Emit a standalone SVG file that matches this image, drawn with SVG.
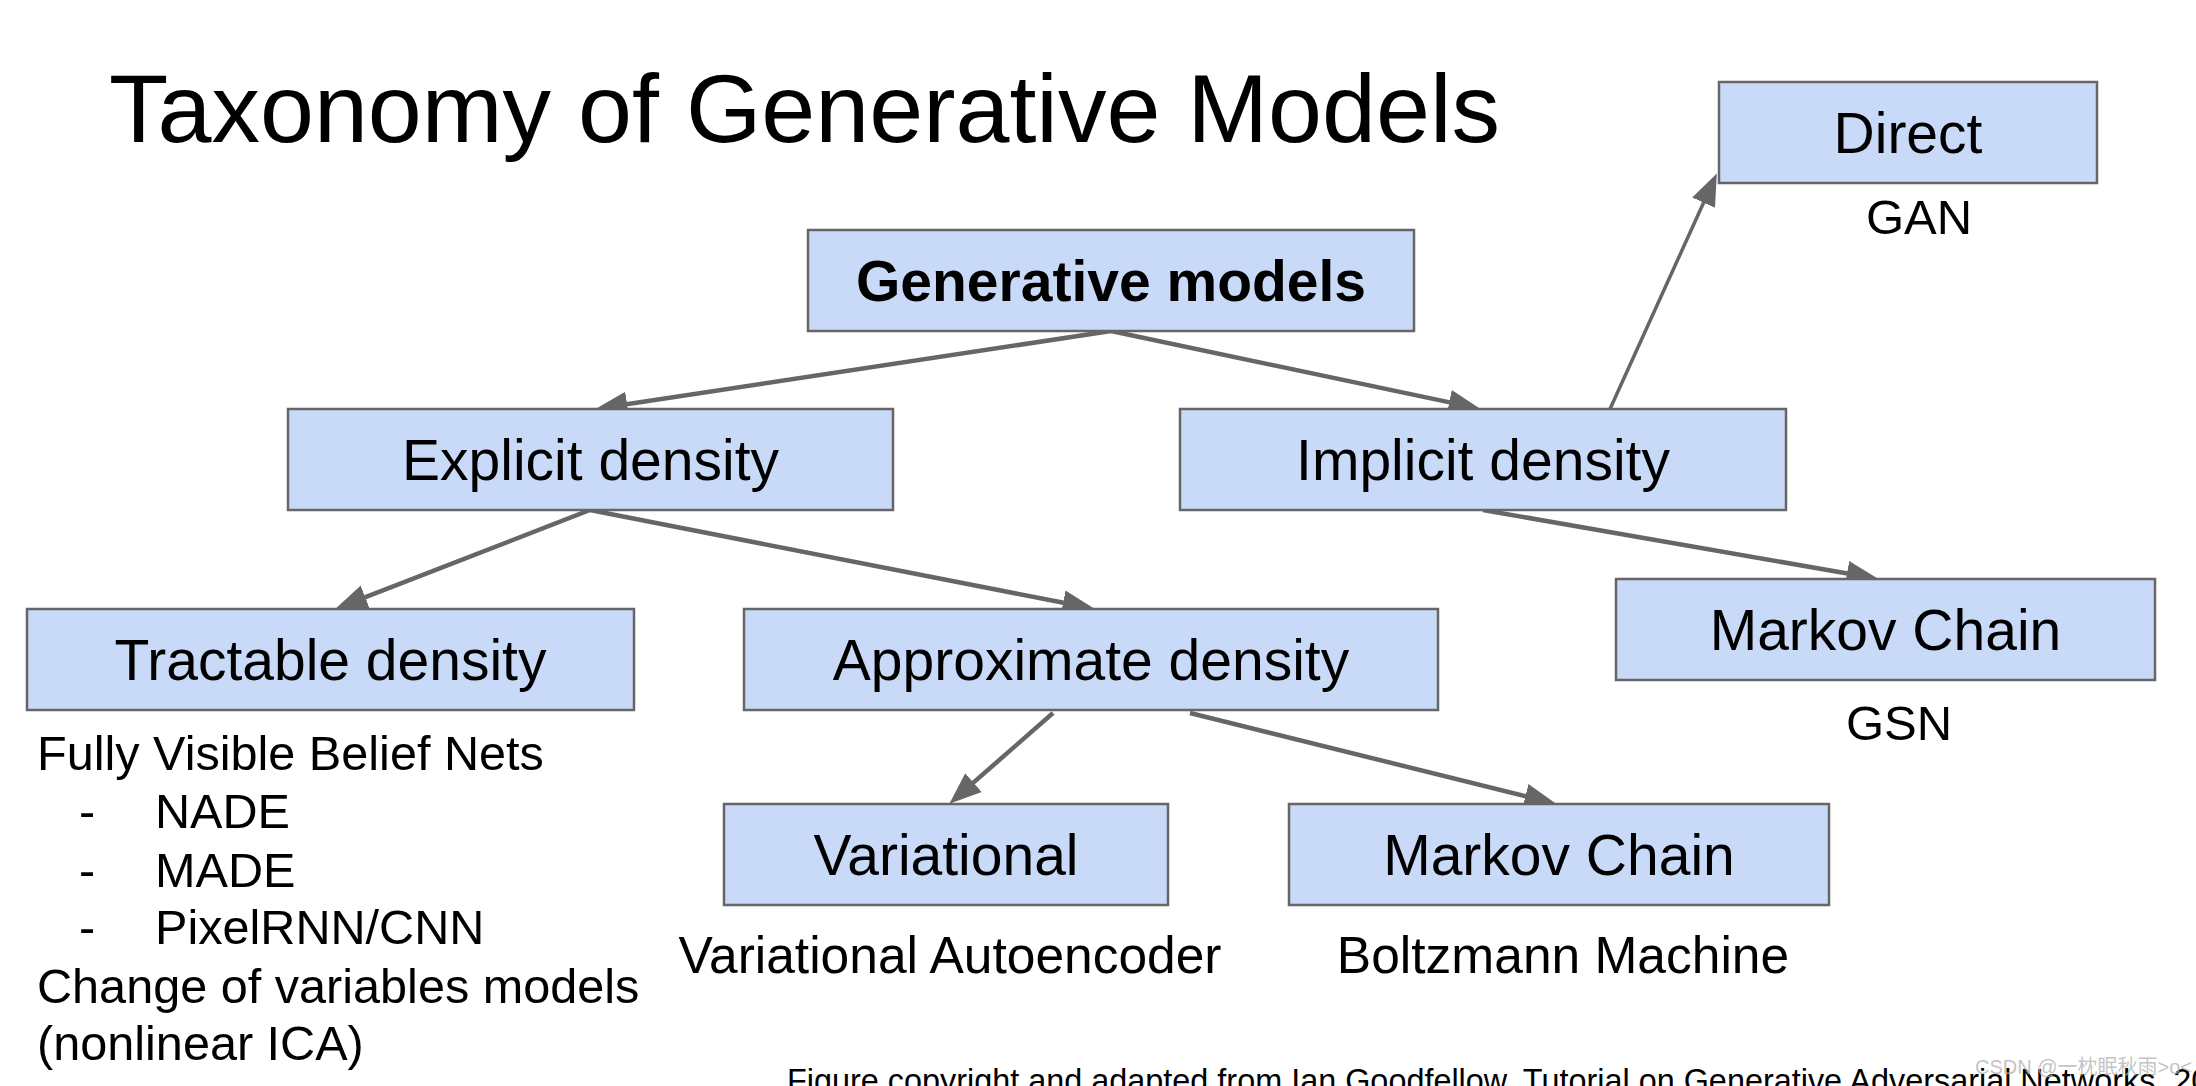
<svg xmlns="http://www.w3.org/2000/svg" width="2196" height="1086" viewBox="0 0 2196 1086">
  <style>
    text { font-family: "Liberation Sans", Arial, sans-serif; fill: #000; }
    .box { fill: #c9daf8; stroke: #666666; stroke-width: 2.5; }
    .lbl { font-size: 57px; text-anchor: middle; }
    .bold { font-weight: bold; }
    .sub { font-size: 49px; text-anchor: middle; }
    .sub2 { font-size: 51.5px; }
    .list { font-size: 48.6px; }
    .edge { stroke: #666666; stroke-width: 4.5; fill: none; marker-end: url(#ah); }
  </style>
  <defs>
    <marker id="ah" markerUnits="userSpaceOnUse" markerWidth="33" markerHeight="27" viewBox="0 -13.5 33 27" refX="0.5" refY="0" orient="auto">
      <path d="M0,-12.5 L32,0 L0,12.5 z" fill="#666666"/>
    </marker>
  </defs>
  <rect width="2196" height="1086" fill="#ffffff"/>

  <text x="109" y="142" font-size="97">Taxonomy of Generative Models</text>

  <g id="connectors">
    <line class="edge" x1="1111" y1="331" x2="626.6" y2="404.2"/>
    <line class="edge" x1="1111" y1="331" x2="1449.7" y2="402.4"/>
    <line class="edge" x1="1610" y1="409" x2="1703.8" y2="202.2" style="stroke-width:3.5"/>
    <line class="edge" x1="1483" y1="510" x2="1847.5" y2="573.5"/>
    <line class="edge" x1="590" y1="510" x2="364.8" y2="597.4"/>
    <line class="edge" x1="590" y1="510" x2="1063.6" y2="602.8"/>
    <line class="edge" x1="1053" y1="713" x2="973.1" y2="782.9"/>
    <line class="edge" x1="1190" y1="713" x2="1525.9" y2="796.3"/>
  </g>

  <g id="node-generative">
    <rect class="box" x="808" y="230" width="606" height="101"/>
    <text class="lbl bold" x="1111" y="301">Generative models</text>
  </g>
  <g id="node-explicit">
    <rect class="box" x="288" y="409" width="605" height="101"/>
    <text class="lbl" x="590.5" y="480">Explicit density</text>
  </g>
  <g id="node-implicit">
    <rect class="box" x="1180" y="409" width="606" height="101"/>
    <text class="lbl" x="1483" y="480">Implicit density</text>
  </g>
  <g id="node-direct">
    <rect class="box" x="1719" y="82" width="378" height="101"/>
    <text class="lbl" x="1908" y="153">Direct</text>
    <text class="sub" x="1919" y="234">GAN</text>
  </g>
  <g id="node-markov-gsn">
    <rect class="box" x="1616" y="579" width="539" height="101"/>
    <text class="lbl" x="1885.5" y="650">Markov Chain</text>
    <text class="sub" x="1899" y="740">GSN</text>
  </g>
  <g id="node-tractable">
    <rect class="box" x="27" y="609" width="607" height="101"/>
    <text class="lbl" x="330.5" y="680">Tractable density</text>
    <text class="list" x="37" y="770">Fully Visible Belief Nets</text>
    <text class="list" x="79" y="828">-</text>
    <text class="list" x="155" y="828">NADE</text>
    <text class="list" x="79" y="887">-</text>
    <text class="list" x="155" y="887">MADE</text>
    <text class="list" x="79" y="944">-</text>
    <text class="list" x="155" y="944">PixelRNN/CNN</text>
    <text class="list" x="37" y="1003">Change of variables models</text>
    <text class="list" x="37" y="1060">(nonlinear ICA)</text>
  </g>
  <g id="node-approximate">
    <rect class="box" x="744" y="609" width="694" height="101"/>
    <text class="lbl" x="1091" y="680">Approximate density</text>
  </g>
  <g id="node-variational">
    <rect class="box" x="724" y="804" width="444" height="101"/>
    <text class="lbl" x="946" y="875">Variational</text>
    <text class="sub2" x="950" y="973" text-anchor="middle">Variational Autoencoder</text>
  </g>
  <g id="node-markov-bm">
    <rect class="box" x="1289" y="804" width="540" height="101"/>
    <text class="lbl" x="1559" y="875">Markov Chain</text>
    <text class="sub2" x="1563" y="973" text-anchor="middle">Boltzmann Machine</text>
  </g>

  <text x="787" y="1092" font-size="32.4">Figure copyright and adapted from Ian Goodfellow, Tutorial on Generative Adversarial Networks, 2017.</text>
  <text x="1975" y="1074" font-size="20" style="font-family: 'Liberation Sans', 'Noto Sans CJK SC', sans-serif; fill: #b4b4b4; fill-opacity: 0.8;">CSDN @一枕眠秋雨&gt;o&lt;</text>
</svg>
